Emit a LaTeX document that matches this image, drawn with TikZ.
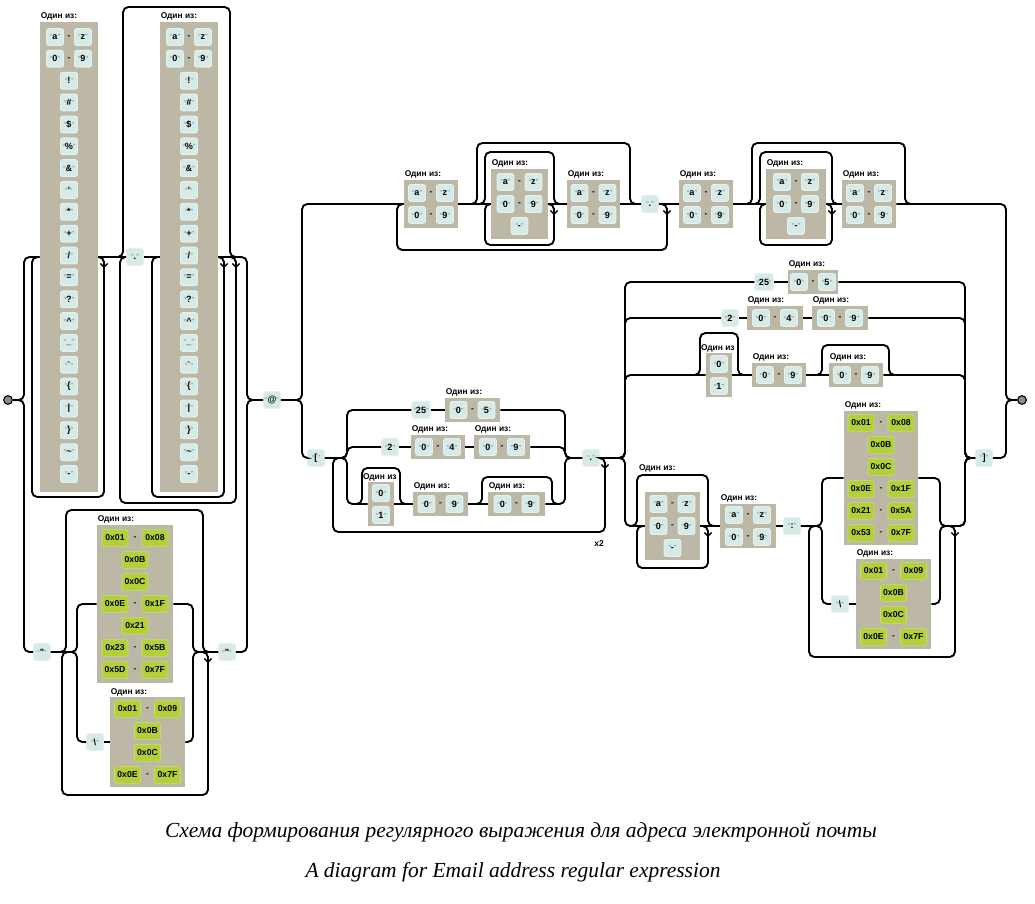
\documentclass[tikz,border=0pt]{standalone}
\usepackage{fontspec}
\setmainfont{Liberation Sans}
\newfontfamily\capfont{Liberation Serif}
\usetikzlibrary{fit,arrows.meta}
\definecolor{clsc}{HTML}{BDB8A5}
\definecolor{litc}{HTML}{D6EAE8}
\definecolor{litb}{HTML}{E6F1EE}
\definecolor{hexc}{HTML}{B3D03A}
\definecolor{hexbd}{HTML}{C8DE6A}
\definecolor{qc}{HTML}{6F8583}
\definecolor{dotc}{HTML}{8C8C8C}
\newcommand\lblf{\fontsize{6.3}{7}\selectfont\bfseries}
\newcommand\litf{\fontsize{6.8}{7}\selectfont\bfseries}
\newcommand\hexf{\fontsize{6.5}{7}\selectfont\bfseries}
\newcommand\capf{\capfont\itshape\fontsize{16.1}{19}\selectfont}
\newcommand\qlit[1]{{\color{qc}\fontsize{5.5}{5}\selectfont\mdseries“}#1{\color{qc}\fontsize{5.5}{5}\selectfont\mdseries”}}
\tikzset{
 rr/.style={line width=1.4pt, rounded corners=4pt},
 ln/.style={line width=1.4pt},
 lit/.style={rectangle, fill=litc, draw=litb, line width=0.8pt, rounded corners=1.5pt, minimum width=12.5pt, minimum height=12.5pt, inner sep=1.2pt, font=\litf},
 hx/.style={rectangle, fill=hexc, draw=hexbd, line width=0.5pt, rounded corners=1.5pt, minimum width=19.5pt, minimum height=12.5pt, inner sep=1pt, font=\hexf},
 cls/.style={rectangle, fill=clsc, draw=none, inner sep=0pt},
 lbl/.style={anchor=south west, inner sep=0.6pt, font=\lblf},
 dsh/.style={inner sep=0pt, font=\lblf},
 term/.style={circle, fill=dotc, draw=black, line width=0.8pt, minimum size=6.5pt, inner sep=0pt},
 arr/.style={-{Straight Barb[length=2.6pt,width=5.5pt]}, line width=1.1pt},
 captxt/.style={font=\capf, inner sep=0pt},
}
\newcommand\rngx[5]{\node[lit] (#1a) at ({#2-14},#3) {\qlit{#4}};
 \node[lit] (#1b) at ({#2+14},#3) {\qlit{#5}};
 \node[dsh] (#1d) at (#2,#3) {-};}
\newcommand\hexr[5]{\node[hx] (#1a) at ({#2-20},#3) {#4};
 \node[hx] (#1b) at ({#2+20},#3) {#5};
 \node[dsh] (#1d) at (#2,#3) {-};}
\newcommand\clsbox[6]{\node[cls, fit={(#2,#3) (#4,#5)}] (#1) {};
 \node[lbl] (#1l) at (#1.north west) {#6};}
\newcommand\clsonly[5]{\node[cls, fit={(#2,#3) (#4,#5)}] (#1) {};}
\newcommand\darr[2]{\draw[arr] (#1,{#2+4}) -- (#1,{#2+11});}
\begin{document}
\begin{tikzpicture}[x=0.75pt,y=-0.75pt]
\useasboundingbox (0,0) rectangle (1035,903);
\fill[white] (0,0) rectangle (1035,903);

% terminals
\node[term] (start) at (8,400) {};
\node[term] (end) at (1022,400) {};

% ---------- local part, unquoted ----------
\clsbox{col1}{40}{22}{98}{492}{Один из:}
\rngx{c1r0}{69}{37}{a}{z}
\rngx{c1r1}{69}{58.85}{0}{9}
\clsbox{col2}{160}{22}{218}{492}{Один из:}
\rngx{c2r0}{189}{37}{a}{z}
\rngx{c2r1}{189}{58.85}{0}{9}
\foreach \c [count=\i from 2] in {!,\#,\$,\%,\&,\textquotesingle,*,+,{/},=,?,\textasciicircum,\_,\textasciigrave,\{,|,\},\textasciitilde,-}{
  \node[lit] (ca\i) at (69,{37+\i*21.85}) {\qlit{\c}};
  \node[lit] (cb\i) at (189,{37+\i*21.85}) {\qlit{\c}};
}
\node[lit] (dotl) at (135,257) {\qlit{.}};

% ---------- local part, quoted ----------
\node[lit] (q1) at (42,652) {\qlit{\textquotedbl}};
\node[lit] (q2) at (227,652) {\qlit{\textquotedbl}};
\clsbox{hx1}{97}{525}{173}{683}{Один из:}
\hexr{h1r0}{135}{538}{0x01}{0x08}
\node[hx] (h1r1) at (135,560) {0x0B};
\node[hx] (h1r2) at (135,582) {0x0C};
\hexr{h1r3}{135}{604}{0x0E}{0x1F}
\node[hx] (h1r4) at (135,626) {0x21};
\hexr{h1r5}{135}{648}{0x23}{0x5B}
\hexr{h1r6}{135}{670}{0x5D}{0x7F}
\node[lit] (bs1) at (95,742) {\qlit{\textbackslash}};
\clsbox{hx2}{110}{697}{185}{787}{Один из:}
\hexr{h2r0}{147.5}{709}{0x01}{0x09}
\node[hx] (h2r1) at (147.5,731) {0x0B};
\node[hx] (h2r2) at (147.5,753) {0x0C};
\hexr{h2r3}{147.5}{775}{0x0E}{0x7F}

\node[lit] (at) at (272,400) {\qlit{@}};

% ---------- domain, names ----------
\clsbox{a1}{404}{180}{458}{228}{Один из:}
\rngx{a1r0}{431}{193}{a}{z}
\rngx{a1r1}{431}{215}{0}{9}
\clsbox{a2}{491}{169}{548}{239}{Один из:}
\rngx{a2r0}{519.5}{182}{a}{z}
\rngx{a2r1}{519.5}{204}{0}{9}
\node[lit] (a2r2) at (519.5,226) {\qlit{-}};
\clsbox{a3}{567}{180}{620}{228}{Один из:}
\rngx{a3r0}{593.5}{193}{a}{z}
\rngx{a3r1}{593.5}{215}{0}{9}
\node[lit] (dotd) at (650,204) {\qlit{.}};
\clsbox{b1}{679}{180}{733}{228}{Один из:}
\rngx{b1r0}{706}{193}{a}{z}
\rngx{b1r1}{706}{215}{0}{9}
\clsbox{b2}{766}{169}{826}{239}{Один из:}
\rngx{b2r0}{796}{182}{a}{z}
\rngx{b2r1}{796}{204}{0}{9}
\node[lit] (b2r2) at (796,226) {\qlit{-}};
\clsbox{b3}{842}{180}{896}{228}{Один из:}
\rngx{b3r0}{869}{193}{a}{z}
\rngx{b3r1}{869}{215}{0}{9}

% ---------- domain, literal ----------
\node[lit] (lb) at (316,458) {\qlit{[}};
\node[lit] (l25a) at (421,410) {\qlit{25}};
\clsbox{c25a}{445}{398}{500}{422}{Один из:}
\rngx{c25ar}{472.5}{410}{0}{5}
\node[lit] (l2a) at (390,447) {\qlit{2}};
\clsbox{c04a}{411}{435}{465}{459}{Один из:}
\rngx{c04ar}{438}{447}{0}{4}
\clsbox{c09a}{474}{435}{530}{459}{Один из:}
\rngx{c09ar}{502}{447}{0}{9}
\clsonly{c01a}{368}{482}{394}{526}
\node[lbl] (c01al) at (362,482) {Один из};
\node[lit] (c01a0) at (381,493) {\qlit{0}};
\node[lit] (c01a1) at (381,515) {\qlit{1}};
\clsbox{c09b}{413}{492}{468}{516}{Один из:}
\rngx{c09br}{440.5}{504}{0}{9}
\clsbox{c09c}{488}{492}{545}{516}{Один из:}
\rngx{c09cr}{516.5}{504}{0}{9}
\node[lit] (dot1) at (591,458) {\qlit{.}};
\node[dsh] (x2) at (599,544) {x2};

\node[lit] (l25b) at (764,282) {\qlit{25}};
\clsbox{c05b}{788}{270}{838}{294}{Один из:}
\rngx{c05br}{813}{282}{0}{5}
\node[lit] (l2b) at (730,318) {\qlit{2}};
\clsbox{c04b}{747}{306}{803}{330}{Один из:}
\rngx{c04br}{775}{318}{0}{4}
\clsbox{c09d}{812}{306}{868}{330}{Один из:}
\rngx{c09dr}{840}{318}{0}{9}
\clsonly{c01b}{706}{353}{732}{397}
\node[lbl] (c01bl) at (700,353) {Один из};
\node[lit] (c01b0) at (719,364) {\qlit{0}};
\node[lit] (c01b1) at (719,386) {\qlit{1}};
\clsbox{c09e}{752}{363}{806}{387}{Один из:}
\rngx{c09er}{779}{375}{0}{9}
\clsbox{c09f}{829}{363}{883}{387}{Один из:}
\rngx{c09fr}{856}{375}{0}{9}

\clsonly{cg1}{645}{492}{700}{560}
\node[lbl] (cg1l) at (638,473) {Один из:};
\rngx{cg1r0}{672.5}{504}{a}{z}
\rngx{cg1r1}{672.5}{526}{0}{9}
\node[lit] (cg1r2) at (672.5,548) {\qlit{-}};
\clsbox{cg2}{720}{504}{776}{548}{Один из:}
\rngx{cg2r0}{748}{515}{a}{z}
\rngx{cg2r1}{748}{537}{0}{9}
\node[lit] (colon) at (792,526) {\qlit{:}};
\clsbox{d1}{844}{411}{918}{545}{Один из:}
\hexr{d1r0}{881}{423}{0x01}{0x08}
\node[hx] (d1r1) at (881,445) {0x0B};
\node[hx] (d1r2) at (881,467) {0x0C};
\hexr{d1r3}{881}{489}{0x0E}{0x1F}
\hexr{d1r4}{881}{511}{0x21}{0x5A}
\hexr{d1r5}{881}{533}{0x53}{0x7F}
\node[lit] (bs2) at (840,604) {\qlit{\textbackslash}};
\clsbox{d2}{856}{559}{931}{649}{Один из:}
\hexr{d2r0}{893.5}{571}{0x01}{0x09}
\node[hx] (d2r1) at (893.5,593) {0x0B};
\node[hx] (d2r2) at (893.5,615) {0x0C};
\hexr{d2r3}{893.5}{637}{0x0E}{0x7F}
\node[lit] (rb) at (984,458) {\qlit{]}};

% ================= connectors =================
\draw[rr] (start.east) -- (24,400) -- (24,257) -- (col1.west);
\draw[rr] (start.east) -- (24,400) -- (24,652) -- (q1.west);
\draw[ln] (col1.east) -- (dotl.west);
\draw[rr] (col1.east) -- (104,257) -- (104,497) -- (32,497) -- (32,257) -- (col1.west);
\darr{104}{257}
\draw[rr] (112,257) -- (123,257) -- (123,7) -- (230,7) -- (230,257) -- (241,257);
\draw[rr] (229,257) -- (236,257) -- (236,503) -- (120,503) -- (120,257) -- (dotl.west);
\darr{236}{257}
\draw[ln] (dotl.east) -- (col2.west);
\draw[rr] (col2.east) -- (224,257) -- (224,497) -- (152,497) -- (152,257) -- (col2.west);
\darr{224}{257}
\draw[rr] (col2.east) -- (247,257) -- (247,400) -- (at.west);
\draw[rr] (q1.east) -- (77,652) -- (77,604) -- (hx1.west);
\draw[rr] (q1.east) -- (77,652) -- (77,742) -- (bs1.west);
\draw[ln] (bs1.east) -- (hx2.west);
\draw[rr] (hx1.east) -- (193,604) -- (193,652) -- (q2.west);
\draw[rr] (hx2.east) -- (193,742) -- (193,652) -- (q2.west);
\draw[rr] (q1.east) -- (66,652) -- (66,510) -- (203,510) -- (203,652) -- (q2.west);
\draw[rr] (196,652) -- (208,652) -- (208,795) -- (62,795) -- (62,652) -- (70,652);
\darr{208}{652}
\draw[rr] (q2.east) -- (247,652) -- (247,400) -- (at.west);
\draw[rr] (at.east) -- (302,400) -- (302,204) -- (a1.west);
\draw[rr] (at.east) -- (302,400) -- (302,458) -- (lb.west);
\draw[rr] (dotd.east) -- (667,204) -- (667,250) -- (397,250) -- (397,204) -- (a1.west);
\darr{667}{204}
\draw[ln] (a1.east) -- (a2.west);
\draw[rr] (a1.east) -- (477,204) -- (477,143) -- (630,143) -- (630,204) -- (dotd.west);
\draw[rr] (479,204) -- (485,204) -- (485,152) -- (554,152) -- (554,204) -- (a3.west);
\draw[rr] (a2.east) -- (554,204) -- (554,245) -- (485,245) -- (485,204) -- (a2.west);
\darr{554}{204}
\draw[ln] (a2.east) -- (a3.west);
\draw[ln] (a3.east) -- (dotd.west);
\draw[ln] (dotd.east) -- (b1.west);
\draw[ln] (b1.east) -- (b2.west);
\draw[rr] (b1.east) -- (752,204) -- (752,143) -- (905,143) -- (905,204) -- (915,204);
\draw[rr] (754,204) -- (760,204) -- (760,152) -- (832,152) -- (832,204) -- (b3.west);
\draw[rr] (b2.east) -- (832,204) -- (832,245) -- (760,245) -- (760,204) -- (b2.west);
\darr{832}{204}
\draw[ln] (b2.east) -- (b3.west);
\draw[rr] (b3.east) -- (1006,204) -- (1006,400) -- (end.west);
\draw[rr] (dot1.east) -- (605,458) -- (605,532) -- (333,532) -- (333,458) -- (345,458);
\darr{605}{458}
\draw[rr] (lb.east) -- (347,458) -- (347,410) -- (l25a.west);
\draw[rr] (lb.east) -- (347,458) -- (347,447) -- (l2a.west);
\draw[rr] (lb.east) -- (347,458) -- (347,504) -- (c01a.west);
\draw[ln] (l25a.east) -- (c25a.west);
\draw[ln] (l2a.east) -- (c04a.west);
\draw[ln] (c04a.east) -- (c09a.west);
\draw[rr] (354,504) -- (362,504) -- (362,468) -- (400,468) -- (400,504) -- (c09b.west);
\draw[ln] (c01a.east) -- (c09b.west);
\draw[ln] (c09b.east) -- (c09c.west);
\draw[rr] (c09b.east) -- (482,504) -- (482,477) -- (552,477) -- (552,504) -- (560,504);
\draw[rr] (c25a.east) -- (565,410) -- (565,458) -- (dot1.west);
\draw[rr] (c09a.east) -- (565,447) -- (565,458) -- (dot1.west);
\draw[rr] (c09c.east) -- (565,504) -- (565,458) -- (dot1.west);
\draw[rr] (dot1.east) -- (625,458) -- (625,282) -- (l25b.west);
\draw[rr] (dot1.east) -- (625,458) -- (625,318) -- (l2b.west);
\draw[rr] (dot1.east) -- (625,458) -- (625,375) -- (c01b.west);
\draw[rr] (dot1.east) -- (625,458) -- (625,526) -- (cg1.west);
\draw[ln] (l25b.east) -- (c05b.west);
\draw[ln] (l2b.east) -- (c04b.west);
\draw[ln] (c04b.east) -- (c09d.west);
\draw[rr] (692,375) -- (700,375) -- (700,333) -- (738,333) -- (738,375) -- (c09e.west);
\draw[ln] (c01b.east) -- (c09e.west);
\draw[ln] (c09e.east) -- (c09f.west);
\draw[rr] (c09e.east) -- (822,375) -- (822,345) -- (889,345) -- (889,375) -- (898,375);
\draw[rr] (c05b.east) -- (965,282) -- (965,458) -- (rb.west);
\draw[rr] (c09d.east) -- (965,318) -- (965,458) -- (rb.west);
\draw[rr] (c09f.east) -- (965,375) -- (965,458) -- (rb.west);
\draw[rr] (630,526) -- (637,526) -- (637,475) -- (708,475) -- (708,526) -- (cg2.west);
\draw[rr] (cg1.east) -- (708,526) -- (708,568) -- (637,568) -- (637,526) -- (cg1.west);
\darr{708}{526}
\draw[ln] (cg1.east) -- (cg2.west);
\draw[ln] (cg2.east) -- (colon.west);
\draw[rr] (colon.east) -- (822,526) -- (822,478) -- (d1.west);
\draw[rr] (colon.east) -- (822,526) -- (822,604) -- (bs2.west);
\draw[ln] (bs2.east) -- (d2.west);
\draw[rr] (d1.east) -- (940,478) -- (940,526) -- (965,526) -- (965,458) -- (rb.west);
\draw[rr] (d2.east) -- (940,604) -- (940,526) -- (965,526) -- (965,458) -- (rb.west);
\draw[rr] (944,526) -- (955,526) -- (955,657) -- (809,657) -- (809,526) -- (817,526);
\darr{955}{526}
\draw[rr] (rb.east) -- (1006,458) -- (1006,400) -- (end.west);

\node[captxt] (cap1) at (521,832) {Схема формирования регулярного выражения для адреса электронной почты};
\node[captxt] (cap2) at (513,872) {A diagram for Email address regular expression};
\end{tikzpicture}
\end{document}
